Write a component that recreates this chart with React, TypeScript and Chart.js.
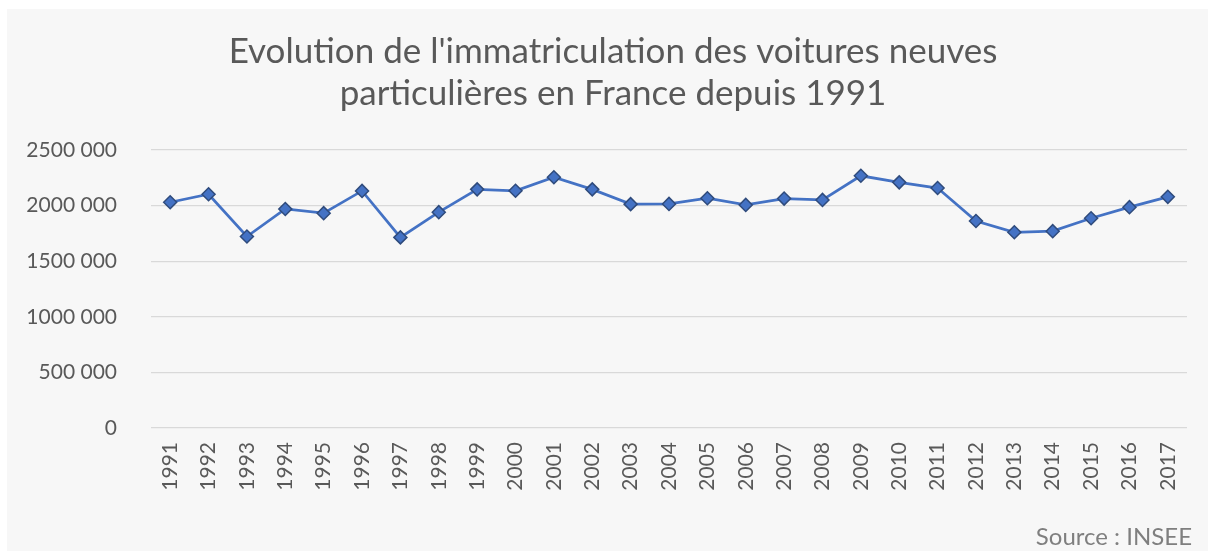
import React, { useEffect, useRef } from "react";
import { Chart, registerables } from "chart.js";

Chart.register(...registerables);

const titleLines = [
  "Evolution de l'immatriculation des voitures neuves",
  "particulières en France depuis 1991",
];
const sourceText = "Source : INSEE";

const years = [
  "1991", "1992", "1993", "1994", "1995", "1996", "1997", "1998", "1999",
  "2000", "2001", "2002", "2003", "2004", "2005", "2006", "2007", "2008",
  "2009", "2010", "2011", "2012", "2013", "2014", "2015", "2016", "2017",
];

const registrations = [
  2030000, 2102000, 1722000, 1970000, 1932000, 2132000, 1714000, 1941000, 2146000,
  2133000, 2255000, 2146000, 2013000, 2015000, 2066000, 2006000, 2063000, 2051000,
  2268000, 2209000, 2158000, 1861000, 1760000, 1770000, 1886000, 1986000, 2079000,
];

const yTickValues = [0, 500000, 1000000, 1500000, 2000000, 2500000];
const yTickLabels = ["0", "500 000", "1000 000", "1500 000", "2000 000", "2500 000"];

const FONT = "Lato";
const TEXT = "#595959";

export default function App() {
  const ref = useRef<HTMLCanvasElement>(null);

  useEffect(() => {
    document.documentElement.style.overflow = "hidden";
    document.body.style.overflow = "hidden";
    const canvas = ref.current;
    if (!canvas) return;

    const textPlugin = {
      id: "texts",
      afterDraw(chart: any) {
        const ctx = chart.ctx;
        ctx.save();
        ctx.fillStyle = TEXT;
        ctx.font = `35px ${FONT}`;
        ctx.textAlign = "center";
        ctx.textBaseline = "alphabetic";
        ctx.fillText(titleLines[0], 606, 54);
        ctx.fillText(titleLines[1], 606, 96);
        ctx.fillStyle = "#7f7f7f";
        ctx.font = `24px ${FONT}`;
        ctx.textAlign = "right";
        ctx.fillText(sourceText, 1185, 536);
        ctx.restore();
      },
    };

    const chart = new Chart(canvas, {
      type: "line",
      data: {
        labels: years,
        datasets: [
          {
            data: registrations,
            borderColor: "#4472C4",
            borderWidth: 2.75,
            backgroundColor: "#4472C4",
            pointStyle: "rectRot",
            pointRadius: 6.5,
            pointBorderWidth: 1.5,
            pointBorderColor: "#2F4B7C",
            pointBackgroundColor: "#4472C4",
            tension: 0,
          },
        ],
      },
      options: {
        responsive: false,
        animation: false,
        layout: { padding: { top: 141, right: 21, left: 0, bottom: 0 } },
        plugins: {
          legend: { display: false },
          title: { display: false },
          tooltip: { enabled: false },
        },
        scales: {
          x: {
            offset: true,
            grid: { display: false, drawTicks: false },
            border: { display: false },
            ticks: {
              color: TEXT,
              font: { family: FONT, size: 21 },
              minRotation: 90,
              maxRotation: 90,
              padding: 14,
              autoSkip: false,
            },
            afterFit(scale: any) {
              scale.height = 123;
            },
          },
          y: {
            min: 0,
            max: 2500000,
            grid: { color: "#d9d9d9", lineWidth: 1.25, drawTicks: false },
            border: { display: false },
            afterBuildTicks(scale: any) {
              scale.ticks = yTickValues.map((v) => ({ value: v }));
            },
            ticks: {
              color: TEXT,
              font: { family: FONT, size: 21 },
              padding: 34,
              callback: (v: any) => {
                const i = yTickValues.indexOf(Number(v));
                return i >= 0 ? yTickLabels[i] : "";
              },
            },
            afterFit(scale: any) {
              scale.width = 144;
            },
          },
        },
      },
      plugins: [textPlugin],
    });

    return () => chart.destroy();
  }, []);

  return (
    <div
      style={{
        position: "absolute",
        left: 7,
        top: 9,
        width: 1260,
        height: 600,
        background: "#f7f7f7",
      }}
    >
      <canvas ref={ref} width={1201} height={542} style={{ display: "block" }} />
    </div>
  );
}
